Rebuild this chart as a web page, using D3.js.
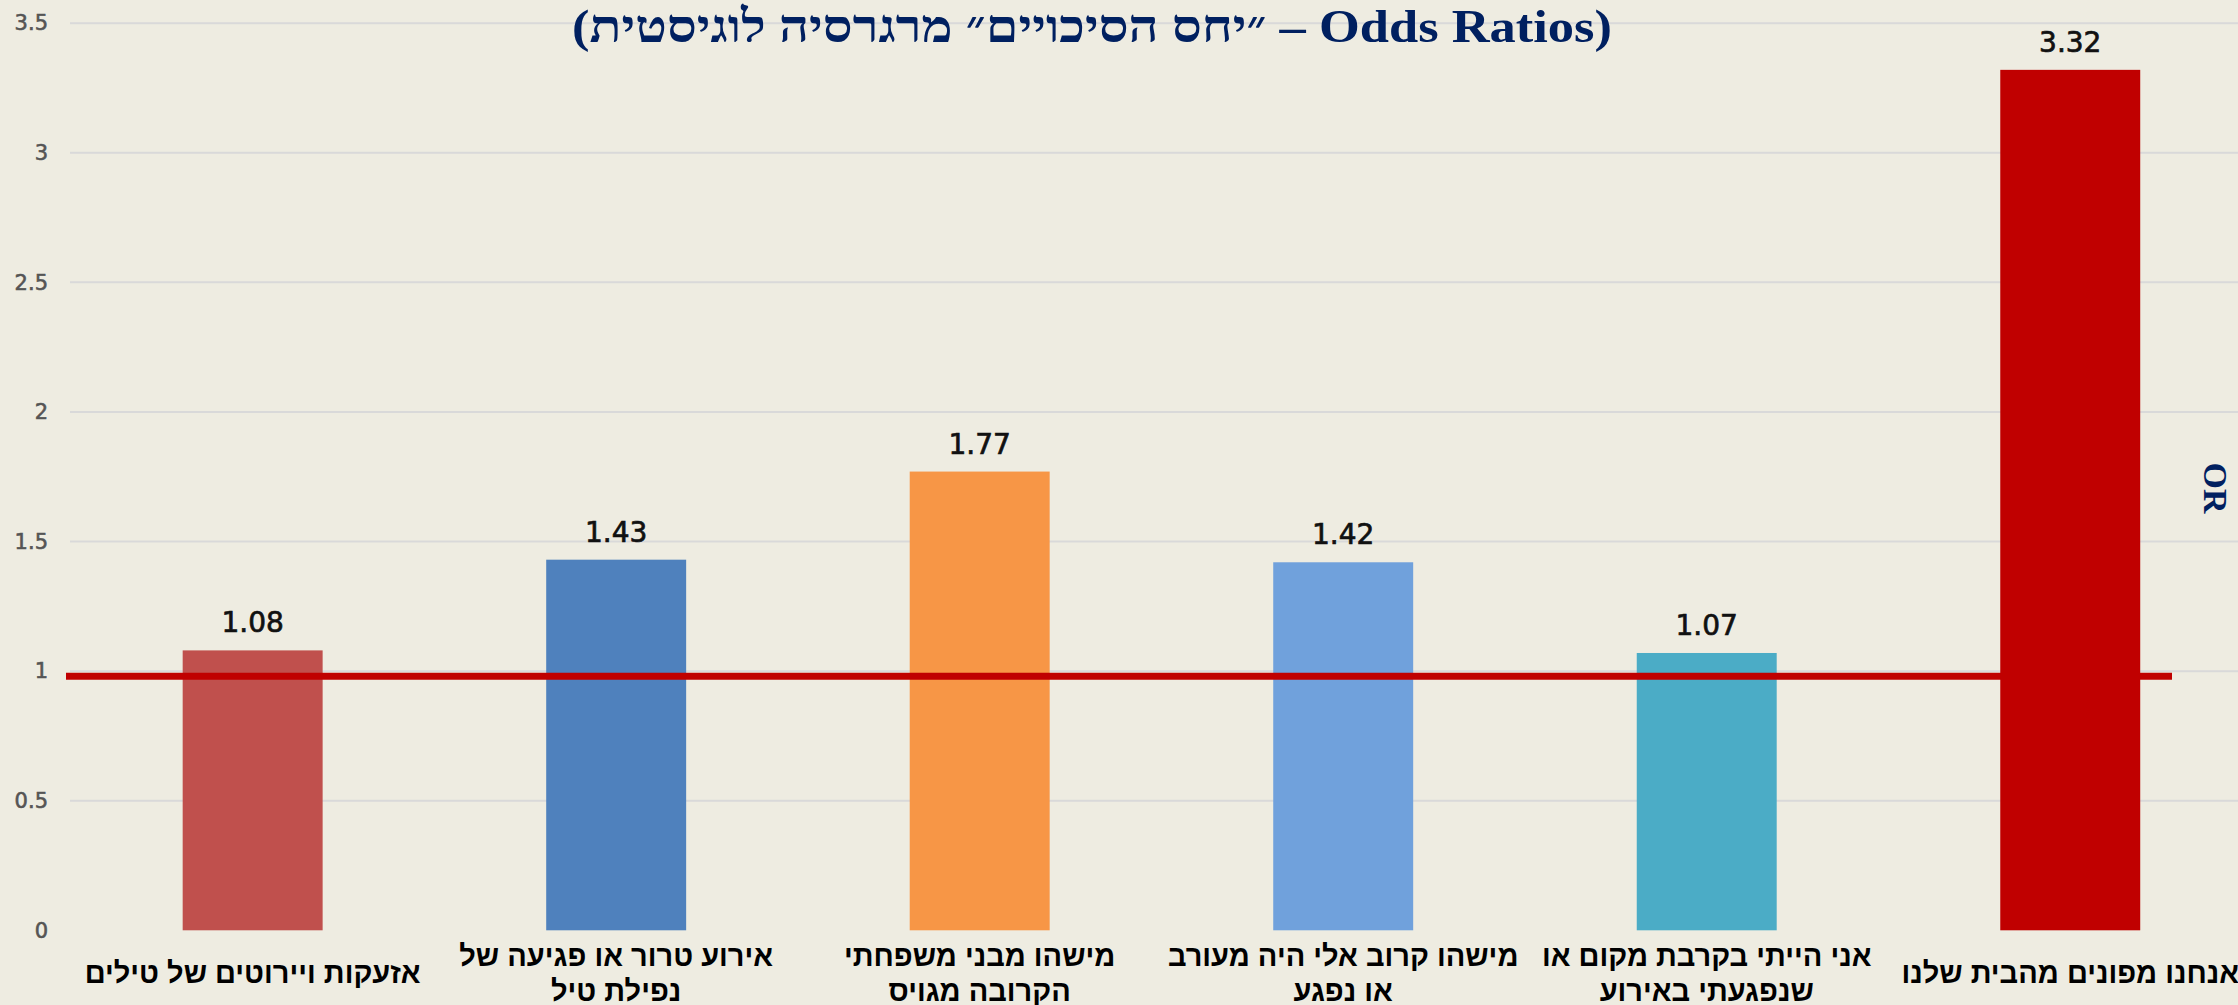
<!DOCTYPE html>
<html>
<head>
<meta charset="utf-8">
<script src="https://cdn.jsdelivr.net/npm/d3@7"></script>
<style>
html, body { margin: 0; padding: 0; background: #eeece1; overflow: hidden; }
svg { display: block; }
</style>
</head>
<body>
<svg id="chart" width="2238" height="1005"></svg>
<script>
// ---- data ----
const categories = [
  "אזעקות ויירוטים של טילים",
  "אירוע טרור או פגיעה של\nנפילת טיל",
  "מישהו מבני משפחתי\nהקרובה מגויס",
  "מישהו קרוב אלי היה מעורב\nאו נפגע",
  "אני הייתי בקרבת מקום או\nשנפגעתי באירוע",
  "אנחנו מפונים מהבית שלנו"
];
const values = [1.08, 1.43, 1.77, 1.42, 1.07, 3.32];
const valueLabels = ["1.08", "1.43", "1.77", "1.42", "1.07", "3.32"];
const yTicks = [0, 0.5, 1, 1.5, 2, 2.5, 3, 3.5];
const yTickLabels = ["0", "0.5", "1", "1.5", "2", "2.5", "3", "3.5"];
const referenceValue = 0.98;
const titleText = "(Odds Ratios – ״יחס הסיכויים״ מרגרסיה לוגיסטית)";
const axisTitle = "OR";

// ---- styles ----
const palette = ["#c0504d", "#4f81bd", "#f79646", "#70a1dc", "#4bacc6", "#c00000"];

const W = 2238, H = 1005;
const plot = { left: 70.9, right: 2252, top: 23.2, bottom: 930.3 };

const svg = d3.select("#chart");
svg.append("rect").attr("width", W).attr("height", H).attr("fill", "#eeece1");

const x = d3.scaleBand()
  .domain(d3.range(categories.length))
  .range([plot.left, plot.right])
  .paddingInner(0.615)
  .paddingOuter(0.3075);

const y = d3.scaleLinear().domain([0, 3.5]).range([plot.bottom, plot.top]);

// gridlines (not at 0)
svg.append("g").selectAll("line")
  .data(yTicks.filter(d => d > 0))
  .join("line")
  .attr("x1", 70).attr("x2", W)
  .attr("y1", d => y(d)).attr("y2", d => y(d))
  .attr("stroke", "#d9d9d9").attr("stroke-width", 2);

// y axis labels
const yAxis = d3.axisLeft(y).tickValues(yTicks)
  .tickFormat((d, i) => yTickLabels[i]).tickSize(0).tickPadding(0);
const gy = svg.append("g").attr("transform", "translate(48,0)").call(yAxis);
gy.select(".domain").remove();
gy.selectAll("text")
  .attr("font-family", "'DejaVu Sans', sans-serif")
  .attr("font-size", 21)
  .attr("fill", "#555")
  .attr("stroke", "#555")
  .attr("stroke-width", 0.6);

// bars
svg.append("g").selectAll("rect")
  .data(values)
  .join("rect")
  .attr("x", (d, i) => x(i))
  .attr("width", x.bandwidth())
  .attr("y", d => y(d))
  .attr("height", d => y(0) - y(d))
  .attr("fill", (d, i) => palette[i]);

// data labels
svg.append("g").selectAll("text")
  .data(values)
  .join("text")
  .attr("x", (d, i) => x(i) + x.bandwidth() / 2)
  .attr("y", d => y(d) - 18)
  .attr("text-anchor", "middle")
  .attr("font-family", "'DejaVu Sans', sans-serif")
  .attr("font-size", 28)
  .attr("fill", "#111")
  .attr("stroke", "#111")
  .attr("stroke-width", 0.7)
  .text((d, i) => valueLabels[i]);

// reference line
svg.append("line")
  .attr("x1", 66).attr("x2", 2172)
  .attr("y1", y(referenceValue)).attr("y2", y(referenceValue))
  .attr("stroke", "#c00000").attr("stroke-width", 7);

// category labels
const lineGap = 35;
const catG = svg.append("g");
categories.forEach((c, i) => {
  const lines = c.split("\n");
  const t = catG.append("text")
    .attr("text-anchor", "middle")
    .attr("direction", "rtl")
    .attr("font-family", "'Liberation Sans', Arial, sans-serif")
    .attr("font-weight", "bold")
    .attr("font-size", 29)
    .attr("fill", "#000");
  lines.forEach((ln, j) => {
    t.append("tspan")
      .attr("x", x(i) + x.bandwidth() / 2)
      .attr("y", 983 + (j - (lines.length - 1) / 2) * lineGap)
      .text(ln);
  });
});

// title
svg.append("text")
  .attr("x", 1092).attr("y", 42)
  .attr("text-anchor", "middle")
  .attr("direction", "rtl")
  .attr("font-family", "'Liberation Serif', 'Times New Roman', serif")
  .attr("font-weight", "bold")
  .attr("font-size", 46)
  .attr("fill", "#002060")
  .attr("textLength", 1040)
  .attr("lengthAdjust", "spacingAndGlyphs")
  .text(titleText);

// right axis title
svg.append("text")
  .attr("transform", "translate(2204,488) rotate(90)")
  .attr("text-anchor", "middle")
  .attr("font-family", "'Liberation Serif', 'Times New Roman', serif")
  .attr("font-weight", "bold")
  .attr("font-size", 34)
  .attr("fill", "#002060")
  .text(axisTitle);
</script>
</body>
</html>
